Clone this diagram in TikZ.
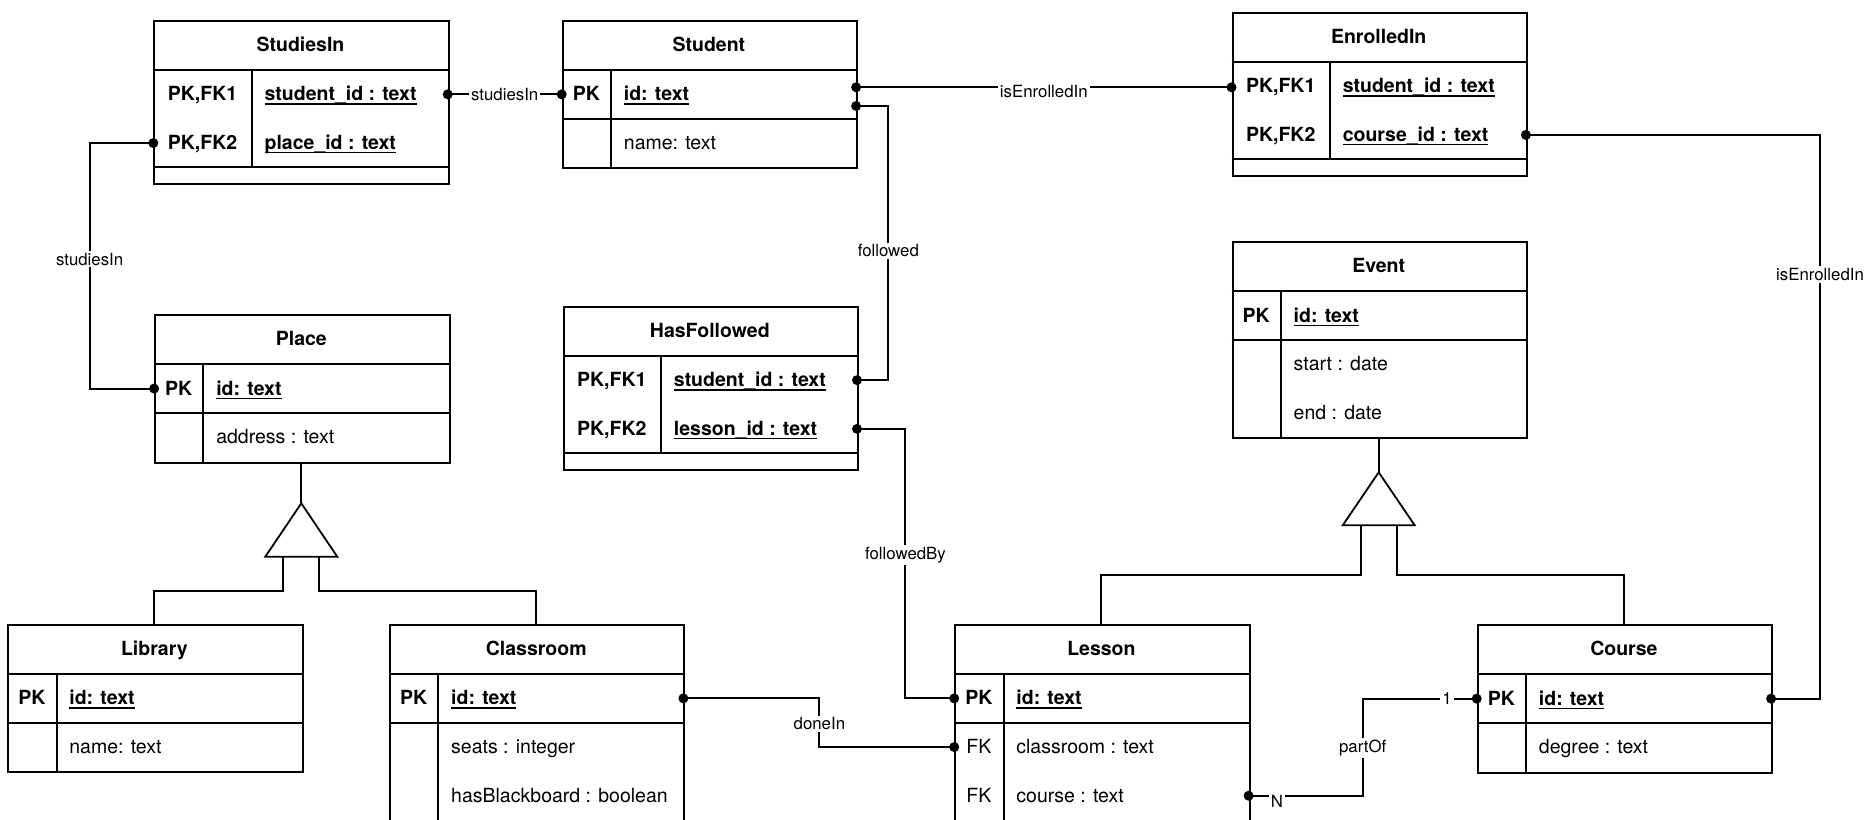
\documentclass[tikz,border=0pt]{standalone}
\usepackage{fontspec}
\setmainfont{TeX Gyre Heros}
\newcommand\ulx[1]{\setbox0=\hbox{#1}\rlap{\rule[-0.2em]{\wd0}{0.07em}}\box0}
\tikzset{
 tblframe/.style={draw, line width=1pt, inner sep=0pt, minimum width=147.2pt, anchor=north west},
 tline/.style={line width=1pt},
 hdr/.style={font=\fontsize{9.75}{11}\selectfont\bfseries, anchor=base, inner sep=0pt},
 keyr/.style={font=\fontsize{9.75}{11}\selectfont, anchor=base, inner sep=0pt},
 ecell/.style={font=\fontsize{9.75}{11}\selectfont, anchor=base west, inner sep=0pt},
 ecellb/.style={font=\fontsize{9.75}{11}\selectfont\bfseries, anchor=base west, inner sep=0pt},
 lbl/.style={font=\fontsize{8.4}{9.5}\selectfont, fill=white, inner sep=1pt},
 conn/.style={line width=1pt},
 tri/.style={line width=0.9pt, fill=white, line join=miter},
 dot/.style={fill=black},
}
\begin{document}
\begin{tikzpicture}[x=0.5pt,y=-0.5pt]
\useasboundingbox (0,0) rectangle (1873,819);
\clip (0,0) rectangle (1873,819);

% ---------------- StudiesIn
\begin{scope}[shift={(153.3,20)}]
 \node[tblframe, minimum height=81.7pt] (StudiesIn) at (0,0) {};
 \draw[tline] (0,50) -- (294.4,50);
 \draw[tline] (0,147.4) -- (294.4,147.4);
 \draw[tline] (98.4,50) -- (98.4,147.4);
 \node[hdr] (siT) at (147.2,31.5) {StudiesIn};
 \node[hdr] (siK1) at (49.2,80.85) {PK,FK1};
 \node[hdr] (siK2) at (49.2,129.55) {PK,FK2};
 \node[ecellb] (siA1) at (110.9,80.85) {\ulx{student\_id : text}};
 \node[ecellb] (siA2) at (110.9,129.55) {\ulx{place\_id : text}};
 \coordinate (siR1) at (294.4,74.35);
 \coordinate (siL2) at (0,123.05);
\end{scope}

% ---------------- Student
\begin{scope}[shift={(561.7,20)}]
 \node[tblframe, minimum height=73.7pt] (Student) at (0,0) {};
 \draw[tline] (0,50) -- (294.4,50);
 \draw[tline] (0,98.7) -- (294.4,98.7);
 \draw[tline] (49.3,50) -- (49.3,147.4);
 \node[hdr] (stT) at (147.2,31.5) {Student};
 \node[hdr] (stK1) at (24.65,80.85) {PK};
 \node[ecellb] (stA1) at (61.8,80.85) {\ulx{id: text}};
 \node[ecell] (stA2) at (61.8,129.55) {name: text};
 \coordinate (stL1) at (0,74.35);
 \coordinate (stR1a) at (294.4,67.3);
 \coordinate (stR1b) at (294.4,86);
\end{scope}

% ---------------- EnrolledIn
\begin{scope}[shift={(1231.5,11.9)}]
 \node[tblframe, minimum height=81.7pt] (EnrolledIn) at (0,0) {};
 \draw[tline] (0,50) -- (294.4,50);
 \draw[tline] (0,147.4) -- (294.4,147.4);
 \draw[tline] (98.4,50) -- (98.4,147.4);
 \node[hdr] (enT) at (147.2,31.5) {EnrolledIn};
 \node[hdr] (enK1) at (49.2,80.85) {PK,FK1};
 \node[hdr] (enK2) at (49.2,129.55) {PK,FK2};
 \node[ecellb] (enA1) at (110.9,80.85) {\ulx{student\_id : text}};
 \node[ecellb] (enA2) at (110.9,129.55) {\ulx{course\_id : text}};
 \coordinate (enL1) at (0,75.4);
 \coordinate (enR2) at (294.4,123.05);
\end{scope}

% ---------------- Event
\begin{scope}[shift={(1231.5,241.3)}]
 \node[tblframe, minimum height=98.05pt] (Event) at (0,0) {};
 \draw[tline] (0,50) -- (294.4,50);
 \draw[tline] (0,98.7) -- (294.4,98.7);
 \draw[tline] (49.3,50) -- (49.3,196.1);
 \node[hdr] (evT) at (147.2,31.5) {Event};
 \node[hdr] (evK1) at (24.65,80.85) {PK};
 \node[ecellb] (evA1) at (61.8,80.85) {\ulx{id: text}};
 \node[ecell] (evA2) at (61.8,129.55) {start : date};
 \node[ecell] (evA3) at (61.8,178.25) {end : date};
 \coordinate (evBot) at (147.2,196.1);
\end{scope}

% ---------------- Place
\begin{scope}[shift={(154.1,314.2)}]
 \node[tblframe, minimum height=73.7pt] (Place) at (0,0) {};
 \draw[tline] (0,50) -- (294.4,50);
 \draw[tline] (0,98.7) -- (294.4,98.7);
 \draw[tline] (49.3,50) -- (49.3,147.4);
 \node[hdr] (plT) at (147.2,31.5) {Place};
 \node[hdr] (plK1) at (24.65,80.85) {PK};
 \node[ecellb] (plA1) at (61.8,80.85) {\ulx{id: text}};
 \node[ecell] (plA2) at (61.8,129.55) {address : text};
 \coordinate (plL1) at (0,74.35);
 \coordinate (plBot) at (147.2,147.4);
\end{scope}

% ---------------- HasFollowed
\begin{scope}[shift={(562.6,305.8)}]
 \node[tblframe, minimum height=81.7pt] (HasFollowed) at (0,0) {};
 \draw[tline] (0,50) -- (294.4,50);
 \draw[tline] (0,147.4) -- (294.4,147.4);
 \draw[tline] (98.4,50) -- (98.4,147.4);
 \node[hdr] (hfT) at (147.2,31.5) {HasFollowed};
 \node[hdr] (hfK1) at (49.2,80.85) {PK,FK1};
 \node[hdr] (hfK2) at (49.2,129.55) {PK,FK2};
 \node[ecellb] (hfA1) at (110.9,80.85) {\ulx{student\_id : text}};
 \node[ecellb] (hfA2) at (110.9,129.55) {\ulx{lesson\_id : text}};
 \coordinate (hfR1) at (294.4,74.35);
 \coordinate (hfR2) at (294.4,123.05);
\end{scope}

% ---------------- Library
\begin{scope}[shift={(7.2,624)}]
 \node[tblframe, minimum height=73.7pt] (Library) at (0,0) {};
 \draw[tline] (0,50) -- (294.4,50);
 \draw[tline] (0,98.7) -- (294.4,98.7);
 \draw[tline] (49.3,50) -- (49.3,147.4);
 \node[hdr] (liT) at (147.2,31.5) {Library};
 \node[hdr] (liK1) at (24.65,80.85) {PK};
 \node[ecellb] (liA1) at (61.8,80.85) {\ulx{id: text}};
 \node[ecell] (liA2) at (61.8,129.55) {name: text};
 \coordinate (liTop) at (147.2,0);
\end{scope}

% ---------------- Classroom
\begin{scope}[shift={(389,624)}]
 \node[tblframe, minimum height=130pt] (Classroom) at (0,0) {};
 \draw[tline] (0,50) -- (294.4,50);
 \draw[tline] (0,98.7) -- (294.4,98.7);
 \draw[tline] (49.3,50) -- (49.3,260);
 \node[hdr] (clT) at (147.2,31.5) {Classroom};
 \node[hdr] (clK1) at (24.65,80.85) {PK};
 \node[ecellb] (clA1) at (61.8,80.85) {\ulx{id: text}};
 \node[ecell] (clA2) at (61.8,129.55) {seats : integer};
 \node[ecell] (clA3) at (61.8,178.25) {hasBlackboard : boolean};
 \coordinate (clTop) at (147.2,0);
 \coordinate (clR1) at (294.4,74.35);
\end{scope}

% ---------------- Lesson
\begin{scope}[shift={(954.2,624)}]
 \node[tblframe, minimum height=130pt] (Lesson) at (0,0) {};
 \draw[tline] (0,50) -- (294.4,50);
 \draw[tline] (0,98.7) -- (294.4,98.7);
 \draw[tline] (49.3,50) -- (49.3,260);
 \node[hdr] (leT) at (147.2,31.5) {Lesson};
 \node[hdr] (leK1) at (24.65,80.85) {PK};
 \node[keyr] (leK2) at (24.65,129.55) {FK};
 \node[keyr] (leK3) at (24.65,178.25) {FK};
 \node[ecellb] (leA1) at (61.8,80.85) {\ulx{id: text}};
 \node[ecell] (leA2) at (61.8,129.55) {classroom : text};
 \node[ecell] (leA3) at (61.8,178.25) {course : text};
 \coordinate (leTop) at (147.2,0);
 \coordinate (leL1) at (0,74.35);
 \coordinate (leL2) at (0,123.05);
 \coordinate (leR3) at (294.4,171.75);
\end{scope}

% ---------------- Course
\begin{scope}[shift={(1476.7,624.3)}]
 \node[tblframe, minimum height=73.7pt] (Course) at (0,0) {};
 \draw[tline] (0,50) -- (294.4,50);
 \draw[tline] (0,98.7) -- (294.4,98.7);
 \draw[tline] (49.3,50) -- (49.3,147.4);
 \node[hdr] (coT) at (147.2,31.5) {Course};
 \node[hdr] (coK1) at (24.65,80.85) {PK};
 \node[ecellb] (coA1) at (61.8,80.85) {\ulx{id: text}};
 \node[ecell] (coA2) at (61.8,129.55) {degree : text};
 \coordinate (coTop) at (147.2,0);
 \coordinate (coL1) at (0,74.35);
 \coordinate (coR1) at (294.4,74.35);
\end{scope}

% ---------------- generalisations
\coordinate (plApex) at (301.3,503.3);
\coordinate (plBL) at (265.3,556.7);
\coordinate (plBR) at (337.3,556.7);
\coordinate (plLegL) at (283.3,556.7);
\coordinate (plLegR) at (319.3,556.7);
\draw[conn] (plBot) -- (plApex);
\draw[conn] (plLegL) -- ++(0,33.8) -| (liTop);
\draw[conn] (plLegR) -- ++(0,33.8) -| (clTop);
\draw[tri] (plApex) -- (plBL) -- (plBR) -- cycle;

\coordinate (evApex) at (1378.7,472.3);
\coordinate (evBL) at (1342.7,525.3);
\coordinate (evBR) at (1414.7,525.3);
\coordinate (evLegL) at (1360.9,525.3);
\coordinate (evLegR) at (1396.5,525.3);
\draw[conn] (evBot) -- (evApex);
\draw[conn] (evLegL) -- ++(0,49.7) -| (leTop);
\draw[conn] (evLegR) -- ++(0,49.7) -| (coTop);
\draw[tri] (evApex) -- (evBL) -- (evBR) -- cycle;

% ---------------- relationships
\coordinate (b1) at (89.6,259.2);
\coordinate (b3) at (888.3,250.8);
\coordinate (b4) at (905.4,555.4);
\coordinate (b5) at (819.4,723.9);
\coordinate (b6) at (1362.7,748.3);
\coordinate (b7) at (1820,274.7);

\draw[conn] (siR1) -- node[lbl] {studiesIn} (stL1);
\draw[conn] (siL2) -| (b1) |- (plL1);
\node[lbl] at (b1) {studiesIn};
\draw[conn] (stR1a) -- node[lbl, yshift=-2pt] {isEnrolledIn} (enL1);
\draw[conn] (stR1b) -| (b3) |- (hfR1);
\node[lbl] at (b3) {followed};
\draw[conn] (hfR2) -| (b4) |- (leL1);
\node[lbl] at (b4) {followedBy};
\draw[conn] (clR1) -| (b5) |- (leL2);
\node[lbl] at (b5) {doneIn};
\draw[conn] (leR3) -| (b6) |- (coL1);
\node[lbl] at (b6) {partOf};
\node[lbl] at (1277,801.5) {N};
\node[lbl] at (1447,698.3) {1};
\draw[conn] (enR2) -| (b7) |- (coR1);
\node[lbl] at (b7) {isEnrolledIn};

\foreach \p in {siR1,stL1,siL2,plL1,stR1a,enL1,stR1b,hfR1,hfR2,leL1,clR1,leL2,leR3,coL1,enR2,coR1}
  \fill[dot] (\p) circle[radius=2.5pt];
\end{tikzpicture}
\end{document}
